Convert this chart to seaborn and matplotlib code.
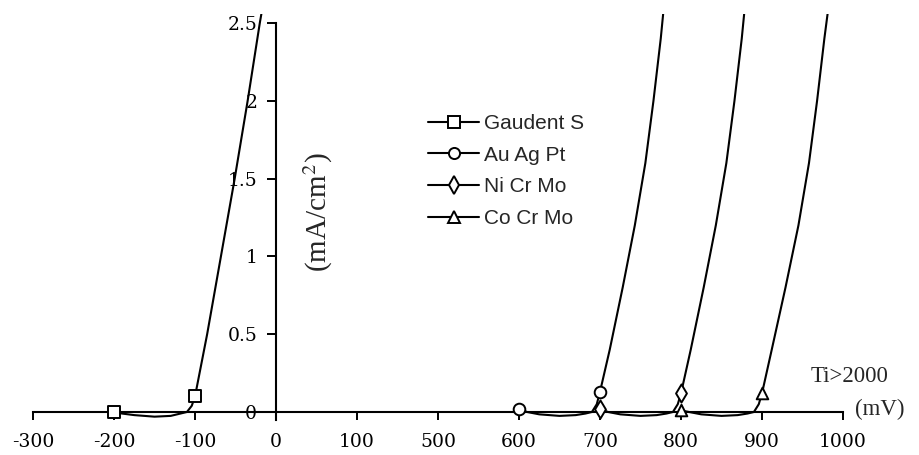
import numpy as np
import matplotlib
matplotlib.use("Agg")
import matplotlib.pyplot as plt
from matplotlib.lines import Line2D
import seaborn as sns

# ---- data ----
tick_values = [-300, -200, -100, 0, 100, 500, 600, 700, 800, 900, 1000]
tick_labels = ["-300", "-200", "-100", "0", "100", "500", "600", "700", "800", "900", "1000"]
y_ticks = [0, 0.5, 1, 1.5, 2, 2.5]
y_tick_labels = ["0", "0.5", "1", "1.5", "2", "2.5"]

series_names = ["Gaudent S", "Au Ag Pt", "Ni Cr Mo", "Co Cr Mo"]
series_markers = ["s", "o", "d", "^"]

gaudent_mv = [-200, -190, -175, -150, -130, -118, -110, -104, -100, -85, -68, -51, -35, -20, -18]
gaudent_ma = [0.0, -0.01, -0.02, -0.03, -0.025, -0.01, 0.0, 0.04, 0.1, 0.5, 1.0, 1.5, 2.0, 2.5, 2.56]
gaudent_mark_mv = [-200, -100]
gaudent_mark_ma = [0.0, 0.1]

auagpt_mv = [600, 610, 625, 650, 670, 682, 690, 696, 700, 712, 728, 743, 756, 766, 775, 778]
auagpt_ma = [0.02, 0.0, -0.015, -0.025, -0.02, -0.01, 0.0, 0.05, 0.13, 0.4, 0.8, 1.2, 1.6, 2.0, 2.4, 2.56]
auagpt_mark_mv = [600, 700]
auagpt_mark_ma = [0.02, 0.13]

nicrmo_mv = [700, 710, 725, 750, 770, 782, 790, 796, 800, 812, 828, 843, 856, 866, 875, 878]
nicrmo_ma = [0.02, 0.0, -0.015, -0.025, -0.02, -0.01, 0.0, 0.05, 0.12, 0.4, 0.8, 1.2, 1.6, 2.0, 2.4, 2.56]
nicrmo_mark_mv = [700, 800]
nicrmo_mark_ma = [0.02, 0.12]

cocrmo_mv = [800, 810, 825, 850, 870, 882, 890, 896, 900, 912, 929, 945, 958, 968, 977, 981]
cocrmo_ma = [0.01, 0.0, -0.015, -0.025, -0.02, -0.01, 0.0, 0.05, 0.12, 0.4, 0.8, 1.2, 1.6, 2.0, 2.4, 2.56]
cocrmo_mark_mv = [800, 900]
cocrmo_mark_ma = [0.01, 0.12]

curves = [(gaudent_mv, gaudent_ma), (auagpt_mv, auagpt_ma),
          (nicrmo_mv, nicrmo_ma), (cocrmo_mv, cocrmo_ma)]
marks = [(gaudent_mark_mv, gaudent_mark_ma), (auagpt_mark_mv, auagpt_mark_ma),
         (nicrmo_mark_mv, nicrmo_mark_ma), (cocrmo_mark_mv, cocrmo_mark_ma)]

# ---- style ----
sns.set_theme(style="white")
plt.rcParams["font.family"] = ["DejaVu Serif"]
plt.rcParams["mathtext.fontset"] = "stix"

positions = np.arange(len(tick_values), dtype=float)


def fwd(x):
    return np.interp(x, tick_values, positions)


def inv(p):
    return np.interp(p, positions, tick_values)


W, H = 919, 455
fig = plt.figure(figsize=(W / 100, H / 100), dpi=100)
fig.patch.set_facecolor("white")
y_lo, y_hi = -0.05, 2.56
px_per = 155.6
bottom_px = 412 + (-y_lo) * px_per
top_px = 412 - y_hi * px_per
ax = fig.add_axes([33 / W, 1 - bottom_px / H, 810 / W, (bottom_px - top_px) / H])
ax.set_facecolor("white")
ax.set_xscale("function", functions=(fwd, inv))

for (mv, ma) in curves:
    sns.lineplot(x=mv, y=ma, ax=ax, color="black", linewidth=1.5,
                 sort=False, estimator=None, legend=False)
for (mv, ma), m in zip(marks, series_markers):
    size = 70 if m != "d" else 85
    sns.scatterplot(x=mv, y=ma, ax=ax, marker=m, s=size, color="white",
                    edgecolor="black", linewidth=1.4, zorder=3, legend=False)

ax.set_xlim(-300, 1000)
ax.set_ylim(y_lo, y_hi)
ax.set_xticks(tick_values)
ax.set_xticklabels(tick_labels)
ax.set_yticks(y_ticks)
ax.set_yticklabels(y_tick_labels)
ax.set_xlabel("")
ax.set_ylabel("")

for s in ["top", "right"]:
    ax.spines[s].set_visible(False)
ax.spines["left"].set_position(("data", 0))
ax.spines["bottom"].set_position(("data", 0))
ax.spines["left"].set_bounds(y_lo, 2.5)
ax.spines["bottom"].set_bounds(-300, 1000)
for s in ["left", "bottom"]:
    ax.spines[s].set_color("black")
    ax.spines[s].set_linewidth(1.5)

ax.tick_params(axis="x", bottom=True, direction="out", length=6, width=1.4,
               pad=9, labelsize=13.5, colors="black")
ax.tick_params(axis="y", left=True, direction="out", length=6.5, width=1.4,
               pad=7, labelsize=13.5, colors="black")

handles = [Line2D([], [], color="black", lw=1.5, marker=m,
                  markersize=8 if m != "d" else 9, markerfacecolor="white",
                  markeredgecolor="black", markeredgewidth=1.4)
           for m in series_markers]
leg = ax.legend(handles, series_names, loc="upper left",
                bbox_to_anchor=(428 / W, 1 - 114 / H),
                bbox_transform=fig.transFigure, frameon=False,
                prop={"family": "Liberation Sans", "size": 15},
                handlelength=2.45, handletextpad=0.25, labelspacing=0.61,
                borderpad=0, borderaxespad=0)

fig.text(318 / W, 1 - 212 / H, "(mA/cm$^{2}$)", rotation=90, ha="center",
         va="center", family="Liberation Serif", fontsize=21)
fig.text(811 / W, 1 - 376 / H, "Ti>2000", ha="left", va="center",
         family="Liberation Serif", fontsize=16.5)
fig.text(855 / W, 1 - 409 / H, "(mV)", ha="left", va="center",
         family="Liberation Serif", fontsize=16.5)

fig.savefig("out.png", dpi=100, facecolor="white")
